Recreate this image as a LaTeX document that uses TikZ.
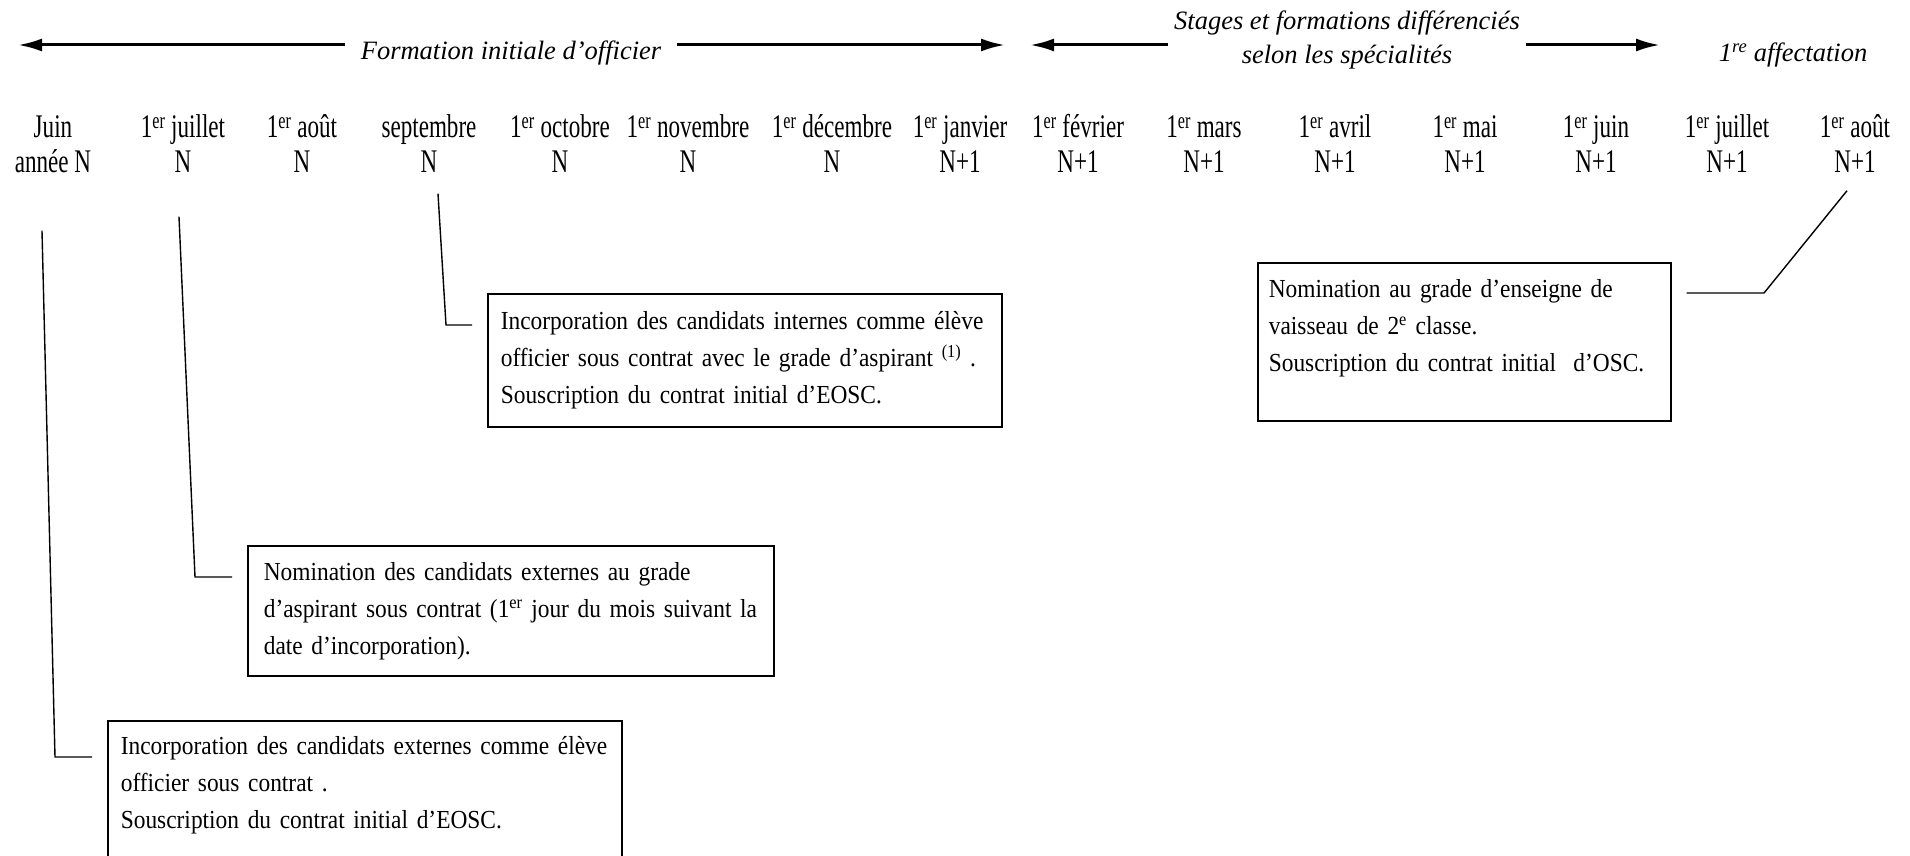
\documentclass[tikz,border=0pt]{standalone}
\usepackage{fontspec}
\setmainfont{Liberation Serif}
\newfontfamily\moisfont[FakeStretch=0.7]{Liberation Serif}
\newfontfamily\boitefont[FakeStretch=0.9]{Liberation Serif}
\usetikzlibrary{arrows.meta}

\newcommand{\premier}{1\textsuperscript{er}}
\newcommand{\mois}[2]{\begin{tabular}[t]{@{}c@{}}#1\\#2\end{tabular}}

\begin{document}
\begin{tikzpicture}[x=1pt, y=-1pt,
	month/.style={inner sep=0pt, anchor=base, font=\moisfont\fontsize{33}{35}\selectfont},
	banner/.style={inner xsep=16pt, inner ysep=0pt, anchor=base, font=\itshape\fontsize{26.5}{34}\selectfont},
	timeline/.style={line width=3pt, -{Latex[length=24pt,width=13pt]}},
	notebox/.style={draw, line width=1.6pt, anchor=north west, align=left, inner ysep=0pt, font=\boitefont\fontsize{26}{37}\selectfont},
	leader/.style={line width=1.4pt}]
	
	\clip (0,0) rectangle (1910,856);
	
	%Periods
	\node[banner] (formation) at (511,60) {Formation initiale d’officier};
	\node[banner, inner xsep=6pt] (stages) at (1347,30) {\begin{tabular}[t]{@{}c@{}}Stages et formations différenciés\\selon les spécialités\end{tabular}};
	\node[banner] (affectation) at (1793,62) {1\textsuperscript{re} affectation};
	
	\coordinate (f1l) at (18,45);
	\coordinate (f1r) at (1005,45);
	\coordinate (f2l) at (1030,45);
	\coordinate (f2r) at (1660,45);
	
	\draw[timeline] (formation.west |- f1l) -- (f1l);
	\draw[timeline] (formation.east |- f1r) -- (f1r);
	\draw[timeline] (stages.west |- f2l) -- (f2l);
	\draw[timeline] (stages.east |- f2r) -- (f2r);
	
	%Months
	\node[month] (juinN) at (53,138) {\mois{Juin}{année N}};
	\node[month] (juilN) at (183,138) {\mois{\premier{} juillet}{N}};
	\node[month] (aoutN) at (302,138) {\mois{\premier{} août}{N}};
	\node[month] (septN) at (429,138) {\mois{septembre}{N}};
	\node[month] (octN) at (560,138) {\mois{\premier{} octobre}{N}};
	\node[month] (novN) at (688,138) {\mois{\premier{} novembre}{N}};
	\node[month] (decN) at (832,138) {\mois{\premier{} décembre}{N}};
	\node[month] (janvN1) at (960,138) {\mois{\premier{} janvier}{N+1}};
	\node[month] (fevN1) at (1078,138) {\mois{\premier{} février}{N+1}};
	\node[month] (marsN1) at (1204,138) {\mois{\premier{} mars}{N+1}};
	\node[month] (avrN1) at (1335,138) {\mois{\premier{} avril}{N+1}};
	\node[month] (maiN1) at (1465,138) {\mois{\premier{} mai}{N+1}};
	\node[month] (juinN1) at (1596,138) {\mois{\premier{} juin}{N+1}};
	\node[month] (juilN1) at (1727,138) {\mois{\premier{} juillet}{N+1}};
	\node[month] (aoutN1) at (1855,138) {\mois{\premier{} août}{N+1}};
	
	%Events
	\node[notebox, inner xsep=13pt, text width=488pt, minimum width=514pt, minimum height=133pt] (b1) at (487,293) {Incorporation des candidats internes comme élève\\officier sous contrat avec le grade d’aspirant \textsuperscript{(1)} .\\Souscription du contrat initial d’EOSC.};
	
	\node[notebox, inner xsep=16pt, text width=494pt, minimum width=526pt, minimum height=130pt] (b2) at (247,545) {Nomination des candidats externes au grade\\d’aspirant sous contrat (\premier{} jour du mois suivant la\\date d’incorporation).};
	
	\node[notebox, inner xsep=13pt, text width=488pt, minimum width=514pt, minimum height=156pt] (b3) at (107,720) {Incorporation des candidats externes comme élève\\officier sous contrat .\\Souscription du contrat initial d’EOSC.\\[-4pt]\mbox{}};
	
	\node[notebox, inner xsep=11pt, text width=391pt, minimum width=413pt, minimum height=158pt] (b4) at (1257,262) {Nomination au grade d’enseigne de\\vaisseau de 2\textsuperscript{e} classe.\\Souscription du contrat initial \ d’OSC.\\[-4pt]\mbox{}};
	
	%Links
	\coordinate (k1) at (55,757);
	\coordinate (k2) at (195,577);
	\coordinate (k3) at (446,325);
	\coordinate (k4) at (1764,293);
	
	\draw[leader] ([xshift=-11pt,yshift=-47pt]juinN.south) -- (k1) -- ([xshift=-15pt]b3.west |- k1);
	\draw[leader] ([xshift=-4pt,yshift=-33pt]juilN.south) -- (k2) -- ([xshift=-15pt]b2.west |- k2);
	\draw[leader] ([xshift=9pt,yshift=-10pt]septN.south) -- (k3) -- ([xshift=-15pt]b1.west |- k3);
	\draw[leader] ([xshift=-8pt,yshift=-7pt]aoutN1.south) -- (k4) -- ([xshift=15pt]b4.east |- k4);
	
\end{tikzpicture}
\end{document}
